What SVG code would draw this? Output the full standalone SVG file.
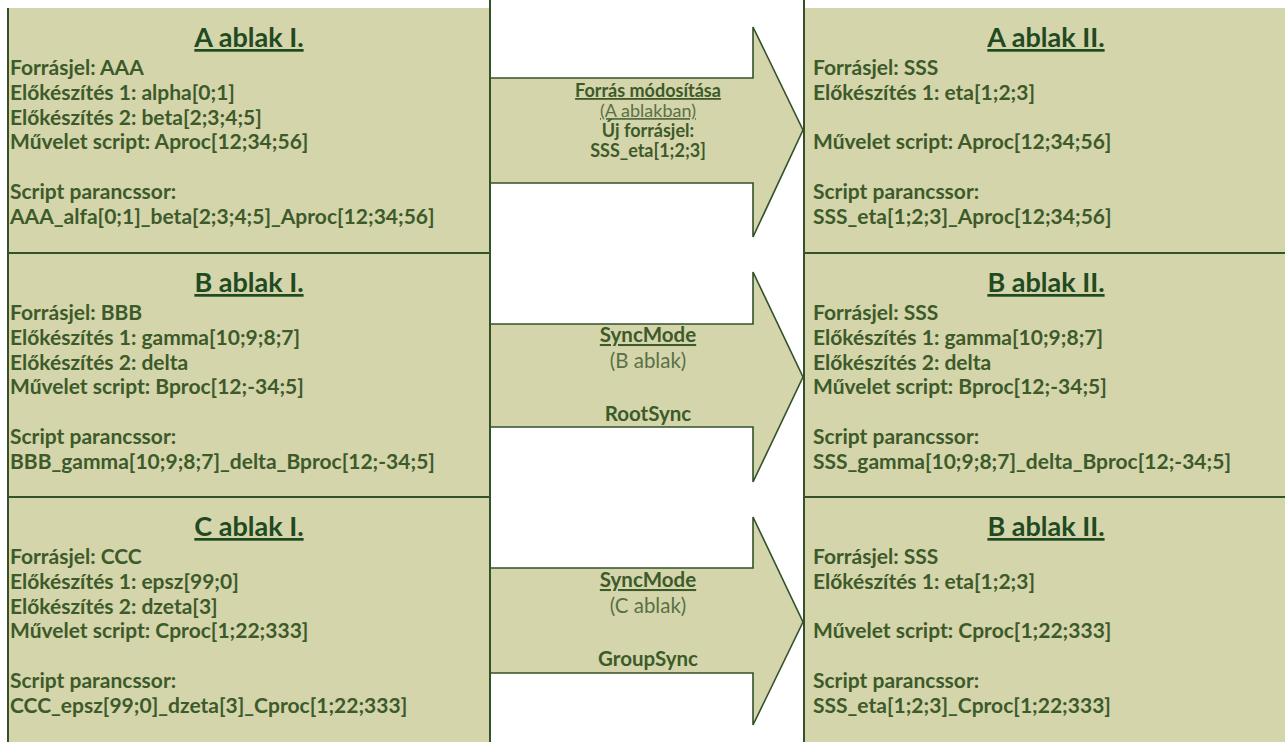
<svg xmlns="http://www.w3.org/2000/svg" width="1285" height="742" viewBox="0 0 1285 742">
<style>
.box{fill:#d4d5ab;stroke:#34512a;stroke-width:2}
.arrow{fill:#d4d5ab;stroke:#34512a;stroke-width:1.6;stroke-linejoin:miter}
text{font-family:Lato,"Noto Sans",sans-serif}
.title{font-size:27px;font-weight:bold;fill:#1f4a22;text-anchor:middle;text-decoration:underline}
.body{font-size:21px;font-weight:bold;fill:#3d5a2a}
.lab1{font-size:18px;font-weight:bold;fill:#3d5a2a;text-anchor:middle}
.sub1{font-size:18px;font-weight:normal;fill:#5a7046;text-anchor:middle}
.lab{font-size:20.5px;font-weight:bold;fill:#3d5a2a;text-anchor:middle}
.sub{font-size:20.5px;font-weight:normal;fill:#5a7046;text-anchor:middle}
.u{text-decoration:underline}
</style>
<rect width="1285" height="742" fill="#ffffff"/>
<g id="connectors">
<g id="arrow-a">
<path class="arrow" d="M490 78 L753 78 L753 27 L803 130 L753 237 L753 183 L490 183 Z"/>
<text class="lab1 u" x="648" y="97">Forrás módosítása</text>
<text class="sub1 u" x="648" y="117">(A ablakban)</text>
<text class="lab1" x="648" y="137">Új forrásjel:</text>
<text class="lab1" x="648" y="157">SSS_eta[1;2;3]</text>
</g>
<g id="arrow-b">
<path class="arrow" d="M490 324 L753 324 L753 272 L803 377 L753 482 L753 427 L490 427 Z"/>
<text class="lab u" x="648" y="342">SyncMode</text>
<text class="sub" x="648" y="368">(B ablak)</text>
<text class="lab" x="648" y="421">RootSync</text>
</g>
<g id="arrow-c">
<path class="arrow" d="M490 568 L753 568 L753 517 L803 622 L753 725 L753 673 L490 673 Z"/>
<text class="lab u" x="648" y="587">SyncMode</text>
<text class="sub" x="648" y="613">(C ablak)</text>
<text class="lab" x="648" y="666">GroupSync</text>
</g>
</g>
<g id="a-ablak-1">
<rect x="8" y="8" width="482" height="245" fill="#d4d5ab"/>
<path d="M8 8 V253 H490 V0" fill="none" stroke="#34512a" stroke-width="2"/>
<text class="title" x="249" y="47">A ablak I.</text>
<text class="body" x="10" y="75">Forrásjel: AAA</text>
<text class="body" x="10" y="100">Előkészítés 1: alpha[0;1]</text>
<text class="body" x="10" y="125">Előkészítés 2: beta[2;3;4;5]</text>
<text class="body" x="10" y="149">Művelet script: Aproc[12;34;56]</text>
<text class="body" x="10" y="199">Script parancssor:</text>
<text class="body" x="10" y="224">AAA_alfa[0;1]_beta[2;3;4;5]_Aproc[12;34;56]</text>
</g>
<g id="b-ablak-1">
<rect class="box" x="8" y="253" width="482" height="244"/>
<text class="title" x="249" y="292">B ablak I.</text>
<text class="body" x="10" y="320">Forrásjel: BBB</text>
<text class="body" x="10" y="345">Előkészítés 1: gamma[10;9;8;7]</text>
<text class="body" x="10" y="370">Előkészítés 2: delta</text>
<text class="body" x="10" y="394">Művelet script: Bproc[12;-34;5]</text>
<text class="body" x="10" y="444">Script parancssor:</text>
<text class="body" x="10" y="469">BBB_gamma[10;9;8;7]_delta_Bproc[12;-34;5]</text>
</g>
<g id="c-ablak-1">
<rect x="8" y="497" width="482" height="250" fill="#d4d5ab"/>
<path d="M8 742 V497 H490 V742" fill="none" stroke="#34512a" stroke-width="2"/>
<text class="title" x="249" y="536">C ablak I.</text>
<text class="body" x="10" y="564">Forrásjel: CCC</text>
<text class="body" x="10" y="589">Előkészítés 1: epsz[99;0]</text>
<text class="body" x="10" y="614">Előkészítés 2: dzeta[3]</text>
<text class="body" x="10" y="638">Művelet script: Cproc[1;22;333]</text>
<text class="body" x="10" y="688">Script parancssor:</text>
<text class="body" x="10" y="713">CCC_epsz[99;0]_dzeta[3]_Cproc[1;22;333]</text>
</g>
<g id="a-ablak-2">
<rect x="804" y="8" width="484" height="245" fill="#d4d5ab"/>
<path d="M804 0 V253 H1285" fill="none" stroke="#34512a" stroke-width="2"/>
<text class="title" x="1046" y="47">A ablak II.</text>
<text class="body" x="813" y="75">Forrásjel: SSS</text>
<text class="body" x="813" y="100">Előkészítés 1: eta[1;2;3]</text>
<text class="body" x="813" y="149">Művelet script: Aproc[12;34;56]</text>
<text class="body" x="813" y="199">Script parancssor:</text>
<text class="body" x="813" y="224">SSS_eta[1;2;3]_Aproc[12;34;56]</text>
</g>
<g id="b-ablak-2">
<rect x="804" y="253" width="484" height="244" fill="#d4d5ab"/>
<path d="M1285 253 H804 V497 H1285" fill="none" stroke="#34512a" stroke-width="2"/>
<text class="title" x="1046" y="292">B ablak II.</text>
<text class="body" x="813" y="320">Forrásjel: SSS</text>
<text class="body" x="813" y="345">Előkészítés 1: gamma[10;9;8;7]</text>
<text class="body" x="813" y="370">Előkészítés 2: delta</text>
<text class="body" x="813" y="394">Művelet script: Bproc[12;-34;5]</text>
<text class="body" x="813" y="444">Script parancssor:</text>
<text class="body" x="813" y="469">SSS_gamma[10;9;8;7]_delta_Bproc[12;-34;5]</text>
</g>
<g id="c-ablak-2">
<rect x="804" y="497" width="484" height="250" fill="#d4d5ab"/>
<path d="M1285 497 H804 V742" fill="none" stroke="#34512a" stroke-width="2"/>
<text class="title" x="1046" y="536">B ablak II.</text>
<text class="body" x="813" y="564">Forrásjel: SSS</text>
<text class="body" x="813" y="589">Előkészítés 1: eta[1;2;3]</text>
<text class="body" x="813" y="638">Művelet script: Cproc[1;22;333]</text>
<text class="body" x="813" y="688">Script parancssor:</text>
<text class="body" x="813" y="713">SSS_eta[1;2;3]_Cproc[1;22;333]</text>
</g>
</svg>
